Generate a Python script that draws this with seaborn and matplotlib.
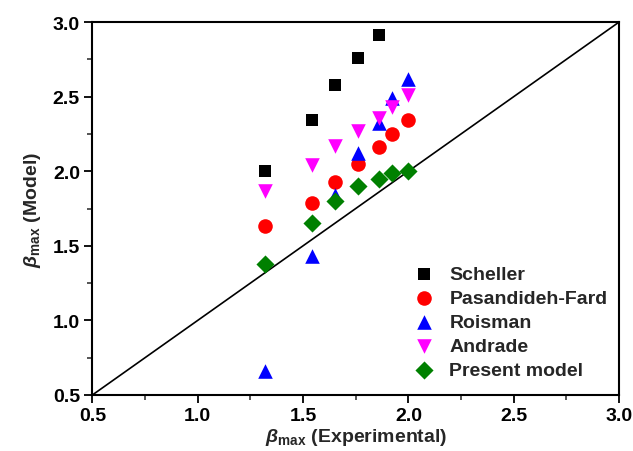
import matplotlib
matplotlib.use('Agg')
import matplotlib.pyplot as plt
import pandas as pd
import seaborn as sns
from matplotlib.ticker import MultipleLocator

# experimental beta_max values (x axis)
beta_exp = [1.32, 1.54, 1.65, 1.76, 1.86, 1.92, 2.0]

scheller = [2.00, 2.34, 2.58, 2.76, 2.91, 3.035]
pasandideh = [1.63, 1.79, 1.93, 2.05, 2.16, 2.25, 2.34]
roisman = [0.66, 1.43, 1.84, 2.12, 2.32, 2.49, 2.62]
andrade = [1.87, 2.04, 2.17, 2.27, 2.36, 2.43, 2.51]
present = [1.38, 1.65, 1.80, 1.90, 1.95, 1.99, 2.00]

series = {
    'Scheller': scheller,
    'Pasandideh-Fard': pasandideh,
    'Roisman': roisman,
    'Andrade': andrade,
    'Present model': present,
}
colors = {'Scheller': 'black', 'Pasandideh-Fard': 'red', 'Roisman': 'blue',
          'Andrade': 'magenta', 'Present model': 'green'}
markers = {'Scheller': 's', 'Pasandideh-Fard': 'o', 'Roisman': '^',
           'Andrade': 'v', 'Present model': 'D'}
sizes = {'Scheller': 80, 'Pasandideh-Fard': 110, 'Roisman': 110,
         'Andrade': 110, 'Present model': 85}

frames = []
for name, vals in series.items():
    frames.append(pd.DataFrame({'exp': beta_exp[:len(vals)], 'model': vals, 'method': name}))
df = pd.concat(frames, ignore_index=True)

sns.set_style('ticks')
plt.rcParams['font.family'] = ['Liberation Sans', 'DejaVu Sans']
plt.rcParams['font.weight'] = 'bold'
plt.rcParams['mathtext.fontset'] = 'custom'
plt.rcParams['mathtext.rm'] = 'Liberation Sans:bold'
plt.rcParams['mathtext.it'] = 'Liberation Sans:bold:italic'
plt.rcParams['mathtext.bf'] = 'Liberation Sans:bold'

fig, ax = plt.subplots(figsize=(6.33, 4.52), dpi=100)
fig.subplots_adjust(left=0.146, right=0.978, top=0.949, bottom=0.124)

ax.plot([0.5, 3.0], [0.5, 3.0], color='black', lw=1.2, zorder=1)

for name in series:
    sub = df[df['method'] == name]
    sns.scatterplot(data=sub, x='exp', y='model', ax=ax, color=colors[name],
                    marker=markers[name], s=sizes[name], linewidth=0, label=name,
                    zorder=3)

ax.set_xlim(0.5, 3.0)
ax.set_ylim(0.5, 3.0)
ax.xaxis.set_major_locator(MultipleLocator(0.5))
ax.yaxis.set_major_locator(MultipleLocator(0.5))
ax.xaxis.set_minor_locator(MultipleLocator(0.25))
ax.yaxis.set_minor_locator(MultipleLocator(0.25))
ax.xaxis.set_major_formatter(matplotlib.ticker.FormatStrFormatter('%.1f'))
ax.yaxis.set_major_formatter(matplotlib.ticker.FormatStrFormatter('%.1f'))
ax.tick_params(which='major', direction='out', length=6, width=1.3, labelsize=14,
               colors='black', top=False, right=False, pad=3)
ax.tick_params(which='minor', direction='out', length=3.5, width=1.1, top=False, right=False)
for sp in ax.spines.values():
    sp.set_visible(True)
    sp.set_linewidth(1.5)
    sp.set_color('black')

ax.set_xlabel(r'$\mathit{\beta}_{\mathrm{max}}$ (Experimental)', fontsize=14, fontweight='bold', labelpad=1)
ax.set_ylabel(r'$\mathit{\beta}_{\mathrm{max}}$ (Model)', fontsize=14, fontweight='bold', labelpad=7)

handles, labels = ax.get_legend_handles_labels()
ax.legend(handles, labels, loc='upper left', bbox_to_anchor=(0.582, 0.39), frameon=False,
          fontsize=14, handlelength=1.0, handletextpad=0.8, labelspacing=0.33,
          borderpad=0.3, markerscale=1.0)

fig.savefig('out.png', dpi=100)
